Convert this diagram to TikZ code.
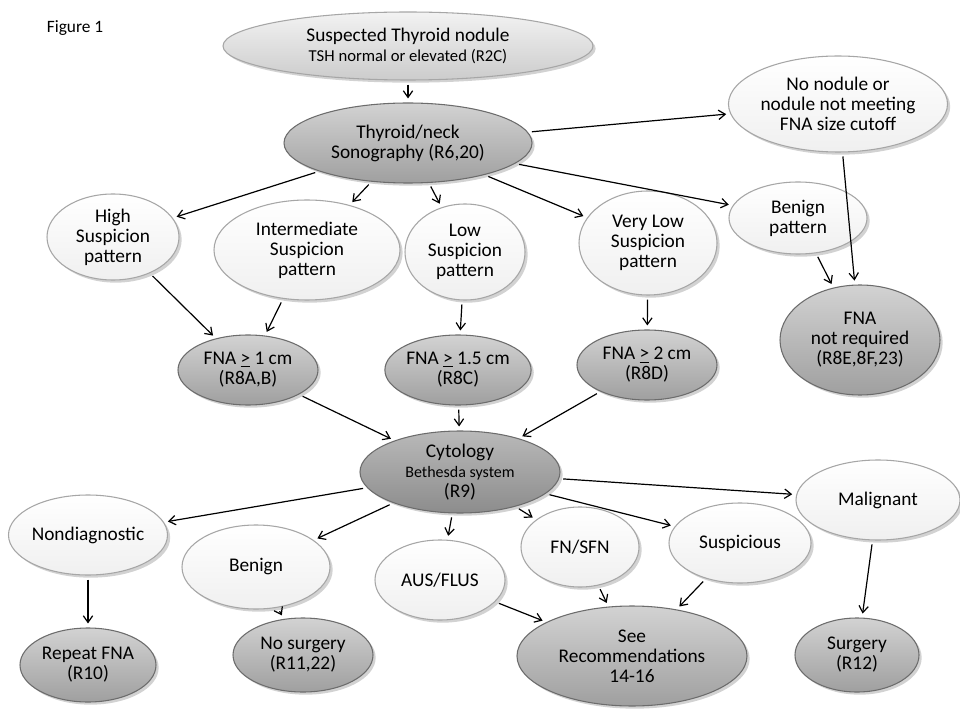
\documentclass[tikz,border=0pt]{standalone}
\usepackage{fontspec}
\setmainfont{Carlito}
\usetikzlibrary{shapes.geometric,shadows,arrows.meta}
\begin{document}
\begin{tikzpicture}[x=0.75pt,y=-0.75pt,
 sz/.style 2 args={minimum width=#1*0.75pt,minimum height=#2*0.75pt},
 base/.style={ellipse,draw=gray!70,line width=0.8pt,align=center,font=\fontsize{14.5}{15}\selectfont,inner sep=0pt,drop shadow={opacity=0.35,shadow xshift=2pt,shadow yshift=-2pt}},
 wh/.style={base,top color=white,bottom color=gray!12},
 dk/.style={base,top color=gray!35,bottom color=gray!75,draw=gray!85!black},
 lt/.style={base,top color=gray!10,bottom color=gray!40},
 sm/.style={font=\fontsize{12}{13}\selectfont},
 ar/.style={-{Straight Barb[length=5pt,width=7pt]},line width=0.9pt,shorten >=3pt,shorten <=3pt}]
\useasboundingbox (0,0) rectangle (960,720);
\fill[white] (0,0) rectangle (960,720);
\node[font=\fontsize{13}{15}\selectfont] (fig) at (75,28) {Figure 1};
\node[lt,sz={370}{68}] (top) at (408,46) {Suspected Thyroid nodule\\{\fontsize{12.5}{13}\selectfont TSH normal or elevated (R2C)}};
\node[dk,sz={248}{80}] (sono) at (408,143) {Thyroid/neck\\Sonography (R6,20)};
\node[wh,sz={200}{96}] (nono) at (838,104) {No nodule or\\nodule not meeting\\FNA size cutoff};
\node[wh,sz={132}{86}] (high) at (113,237) {High\\Suspicion\\pattern};
\node[wh,sz={186}{100}] (inter) at (307,250) {Intermediate\\Suspicion\\pattern};
\node[wh,sz={120}{96}] (low) at (465,252) {Low\\Suspicion\\pattern};
\node[wh,sz={138}{104}] (vlow) at (648,243) {Very Low\\Suspicion\\pattern};
\node[wh,sz={138}{72}] (benp) at (798,218) {Benign\\pattern};
\node[dk,sz={140}{70}] (f1) at (248,370) {FNA \underline{>} 1 cm\\(R8A,B)};
\node[dk,sz={140}{70}] (f15) at (458,370) {FNA \underline{>} 1.5 cm\\(R8C)};
\node[dk,sz={140}{70}] (f2) at (647,365) {FNA \underline{>} 2 cm\\(R8D)};
\node[dk,sz={160}{110}] (fnr) at (860,340) {FNA\\not required\\(R8E,8F,23)};
\node[dk,sz={200}{82},top color=gray!55,bottom color=gray!90] (cyt) at (460,472) {Cytology\\{\fontsize{12}{13}\selectfont Bethesda system}\\(R9)};
\node[wh,sz={150}{80}] (nond) at (88,535) {Nondiagnostic};
\node[wh,sz={148}{84}] (ben) at (256,567) {Benign};
\node[wh,sz={130}{80}] (aus) at (440,580) {AUS/FLUS};
\node[wh,sz={118}{80}] (fn) at (580,547) {FN/SFN};
\node[wh,sz={142}{80}] (susp) at (740,543) {Suspicious};
\node[wh,sz={164}{80}] (mal) at (878,500) {Malignant};
\node[dk,sz={136}{74}] (rep) at (88,665) {Repeat FNA\\(R10)};
\node[dk,sz={140}{74}] (nos) at (303,655) {No surgery\\(R11,22)};
\node[dk,sz={230}{100}] (see) at (632,656) {See\\Recommendations\\14-16};
\node[dk,sz={124}{74}] (surg) at (857,655) {Surgery\\(R12)};
\draw[ar] (top) -- (sono);
\draw[ar] (sono) -- (nono);
\draw[ar] (sono) -- (high);
\draw[ar] (sono) -- (inter);
\draw[ar] (sono) -- (low);
\draw[ar] (sono) -- (vlow);
\draw[ar] (sono) -- (benp);
\draw[ar] (high) -- (f1);
\draw[ar] (inter) -- (f1);
\draw[ar] (low) -- (f15);
\draw[ar] (vlow) -- (f2);
\draw[ar] (benp) -- (fnr);
\draw[ar] (nono) -- (fnr);
\draw[ar] (f1) -- (cyt);
\draw[ar] (f15) -- (cyt);
\draw[ar] (f2) -- (cyt);
\draw[ar] (cyt) -- (nond);
\draw[ar] (cyt) -- (ben);
\draw[ar] (cyt) -- (aus);
\draw[ar] (cyt) -- (fn);
\draw[ar] (cyt) -- (susp);
\draw[ar] (cyt) -- (mal);
\draw[ar] (nond) -- (rep);
\draw[ar] (ben) -- (nos);
\draw[ar] (aus) -- (see);
\draw[ar] (fn) -- (see);
\draw[ar] (susp) -- (see);
\draw[ar] (mal) -- (surg);
\end{tikzpicture}
\end{document}
